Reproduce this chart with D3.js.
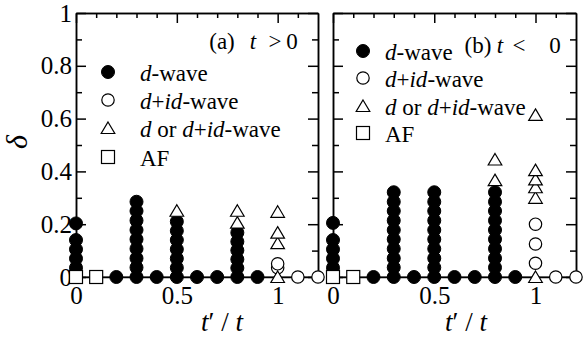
<!DOCTYPE html>
<html>
<head>
<meta charset="utf-8">
<script src="https://cdn.jsdelivr.net/npm/d3@7"></script>
<style>
  body { margin: 0; background: #fff; }
  svg { display: block; }
</style>
</head>
<body>
<svg id="chart" width="587" height="341"></svg>
<script>
// ---- data (x = t'/t, y = delta) ----

// panel (a) t > 0
const dWaveA = [
  [0, 0.035], [0, 0.07], [0, 0.105], [0, 0.14], [0, 0.203],
  [0.2, 0],
  [0.3, 0], [0.3, 0.036], [0.3, 0.071], [0.3, 0.107], [0.3, 0.143], [0.3, 0.178], [0.3, 0.214], [0.3, 0.25], [0.3, 0.285],
  [0.4, 0],
  [0.5, 0], [0.5, 0.035], [0.5, 0.07], [0.5, 0.105], [0.5, 0.14], [0.5, 0.175], [0.5, 0.21],
  [0.6, 0], [0.7, 0],
  [0.8, 0], [0.8, 0.034], [0.8, 0.067], [0.8, 0.101], [0.8, 0.134], [0.8, 0.168],
  [0.9, 0]
];
const didWaveA = [[1, 0.035], [1, 0.05], [1.1, 0], [1.2, 0]];
const eitherA = [[0.5, 0.251], [0.8, 0.206], [0.8, 0.251], [1, 0], [1, 0.128], [1, 0.168], [1, 0.247]];
const afA = [[0, 0], [0.1, 0]];

// panel (b) t < 0
const dWaveB = [
  [0, 0.035], [0, 0.07], [0, 0.105], [0, 0.14], [0, 0.205],
  [0.2, 0],
  [0.3, 0], [0.3, 0.036], [0.3, 0.071], [0.3, 0.107], [0.3, 0.143], [0.3, 0.178], [0.3, 0.214], [0.3, 0.25], [0.3, 0.285], [0.3, 0.321],
  [0.4, 0],
  [0.5, 0], [0.5, 0.036], [0.5, 0.071], [0.5, 0.107], [0.5, 0.143], [0.5, 0.178], [0.5, 0.214], [0.5, 0.25], [0.5, 0.285], [0.5, 0.321],
  [0.6, 0], [0.7, 0],
  [0.8, 0], [0.8, 0.036], [0.8, 0.071], [0.8, 0.107], [0.8, 0.143], [0.8, 0.178], [0.8, 0.214], [0.8, 0.25], [0.8, 0.285], [0.8, 0.321],
  [0.9, 0]
];
const didWaveB = [[1, 0.052], [1, 0.125], [1, 0.2], [1.1, 0], [1.2, 0]];
const eitherB = [[0.8, 0.367], [0.8, 0.445], [1, 0], [1, 0.30], [1, 0.34], [1, 0.37], [1, 0.405], [1, 0.614]];
const afB = [[0, 0], [0.1, 0]];

// axis ticks
const xMajor = [0, 0.5, 1];
const xMinor = [0.1, 0.2, 0.3, 0.4, 0.6, 0.7, 0.8, 0.9, 1.1];
const yMajor = [0, 0.2, 0.4, 0.6, 0.8, 1];
const yMinor = [0.1, 0.3, 0.5, 0.7, 0.9];

// legend entries: phase key + label pieces [text, italic?]
const legendKeys = ["d", "did", "either", "af"];
const legendLabels = [
  [["d", true], ["-wave", false]],
  [["d", true], ["+", false], ["id", true], ["-wave", false]],
  [["d", true], [" or ", false], ["d", true], ["+", false], ["id", true], ["-wave", false]],
  [["AF", false]]
];

// ---- layout ----
const FONT = '"Liberation Serif", "Times New Roman", serif';
const svg = d3.select("#chart");
const y = d3.scaleLinear().domain([0, 1]).range([277, 13]);

const panels = [
  {
    x: d3.scaleLinear().domain([0, 1.2]).range([76, 318]),
    series: {d: dWaveA, did: didWaveA, either: eitherA, af: afA},
    showY: true,
    tag: ["(a)", "t", ">", "0"], tagX: [222, 253, 275, 292], tagY: 49,
    legX: 108, legTextX: 140, legY: [72, 100, 128, 157], legDy: 9,
    xLabelX: 222
  },
  {
    x: d3.scaleLinear().domain([0, 1.2]).range([333, 576]),
    series: {d: dWaveB, did: didWaveB, either: eitherB, af: afB},
    showY: false,
    tag: ["(b)", "t", "<", "0"], tagX: [478, 500, 519, 555], tagY: 53,
    legX: 363, legTextX: 385, legY: [51, 78, 106, 133], legDy: 9,
    xLabelX: 466
  }
];

function drawSymbol(g, kind, cx, cy) {
  if (kind === "d") {
    g.append("circle").attr("cx", cx).attr("cy", cy).attr("r", 6.5)
      .attr("fill", "#000").attr("stroke", "#000");
  } else if (kind === "did") {
    g.append("circle").attr("cx", cx).attr("cy", cy).attr("r", 6.2)
      .attr("fill", "#fff").attr("stroke", "#000").attr("stroke-width", 1.2);
  } else if (kind === "either") {
    g.append("path")
      .attr("d", `M${cx},${cy - 6}L${cx + 6.8},${cy + 5.5}L${cx - 6.8},${cy + 5.5}Z`)
      .attr("fill", "#fff").attr("stroke", "#000").attr("stroke-width", 1.2);
  } else {
    g.append("rect").attr("x", cx - 6.5).attr("y", cy - 6.5).attr("width", 13).attr("height", 13)
      .attr("fill", "#fff").attr("stroke", "#000").attr("stroke-width", 1.2);
  }
}

function styleAxis(g) {
  g.selectAll("path.domain").attr("stroke", "#000").attr("stroke-width", 1.5);
  g.selectAll(".tick line").attr("stroke", "#000").attr("stroke-width", 1.5);
  g.selectAll("text").attr("font-size", 25).style("font-family", FONT).attr("fill", "#000");
}

panels.forEach(p => {
  const x = p.x;
  const x0 = x.range()[0], x1 = x.range()[1];

  // left axis
  svg.append("g").attr("transform", `translate(${x0},0)`)
    .call(d3.axisLeft(y).tickValues(yMajor).tickSize(-10).tickSizeOuter(0).tickPadding(4)
      .tickFormat(d => p.showY ? d : ""))
    .call(styleAxis);
  svg.append("g").attr("transform", `translate(${x0},0)`)
    .call(d3.axisLeft(y).tickValues(yMinor).tickSize(-6).tickSizeOuter(0).tickFormat(""))
    .call(styleAxis);

  // right axis
  svg.append("g").attr("transform", `translate(${x1},0)`)
    .call(d3.axisRight(y).tickValues(yMajor).tickSize(-10).tickSizeOuter(0).tickFormat(""))
    .call(styleAxis);
  svg.append("g").attr("transform", `translate(${x1},0)`)
    .call(d3.axisRight(y).tickValues(yMinor).tickSize(-6).tickSizeOuter(0).tickFormat(""))
    .call(styleAxis);

  // top axis
  svg.append("g").attr("transform", `translate(0,${y(1)})`)
    .call(d3.axisTop(x).tickValues(xMajor).tickSize(-10).tickSizeOuter(0).tickFormat(""))
    .call(styleAxis);
  svg.append("g").attr("transform", `translate(0,${y(1)})`)
    .call(d3.axisTop(x).tickValues(xMinor).tickSize(-5).tickSizeOuter(0).tickFormat(""))
    .call(styleAxis);

  // bottom axis (labels only, line at delta = 0)
  svg.append("g").attr("transform", `translate(0,${y(0)})`)
    .call(d3.axisBottom(x).tickValues(xMajor).tickSize(0).tickSizeOuter(0).tickPadding(9).tickFormat(d => d))
    .call(styleAxis);

  // line through delta = 0 points
  const all = [];
  Object.values(p.series).forEach(s => s.forEach(d => { if (d[1] === 0) all.push(d); }));
  const base = d3.sort(d3.groups(all, d => d[0]).map(g => g[1][0]), d => d[0]);
  svg.append("path")
    .attr("d", d3.line().x(d => x(d[0])).y(d => y(d[1]))(base))
    .attr("fill", "none").attr("stroke", "#000").attr("stroke-width", 1.2);

  // points
  const pg = svg.append("g");
  ["d", "did", "either", "af"].forEach(k => {
    p.series[k].forEach(d => drawSymbol(pg, k, x(d[0]), y(d[1])));
  });

  // panel tag, each piece centred where it sits in the figure
  p.tag.forEach((t, i) => {
    svg.append("text").attr("x", p.tagX[i]).attr("y", p.tagY)
      .attr("text-anchor", "middle")
      .attr("font-size", 23)
      .style("font-family", FONT)
      .attr("font-style", i === 1 ? "italic" : "normal")
      .text(t);
  });

  // legend
  const lg = svg.append("g");
  legendKeys.forEach((k, i) => {
    drawSymbol(lg, k, p.legX, p.legY[i]);
    const t = lg.append("text").attr("x", p.legTextX).attr("y", p.legY[i] + p.legDy)
      .attr("font-size", 23).style("font-family", FONT);
    legendLabels[i].forEach(part => {
      t.append("tspan").attr("font-style", part[1] ? "italic" : "normal").text(part[0]);
    });
  });

  // x label
  const xl = svg.append("text").attr("x", p.xLabelX).attr("y", 331)
    .attr("text-anchor", "middle").attr("font-size", 27).style("font-family", FONT);
  xl.append("tspan").attr("font-style", "italic").text("t");
  xl.append("tspan").text("\u2032 / ");
  xl.append("tspan").attr("font-style", "italic").text("t");
});

// y label
svg.append("text")
  .attr("transform", "translate(27,142) rotate(-90)")
  .attr("text-anchor", "middle")
  .attr("font-size", 30).attr("font-style", "italic")
  .style("font-family", FONT)
  .text("\u03b4");
</script>
</body>
</html>
